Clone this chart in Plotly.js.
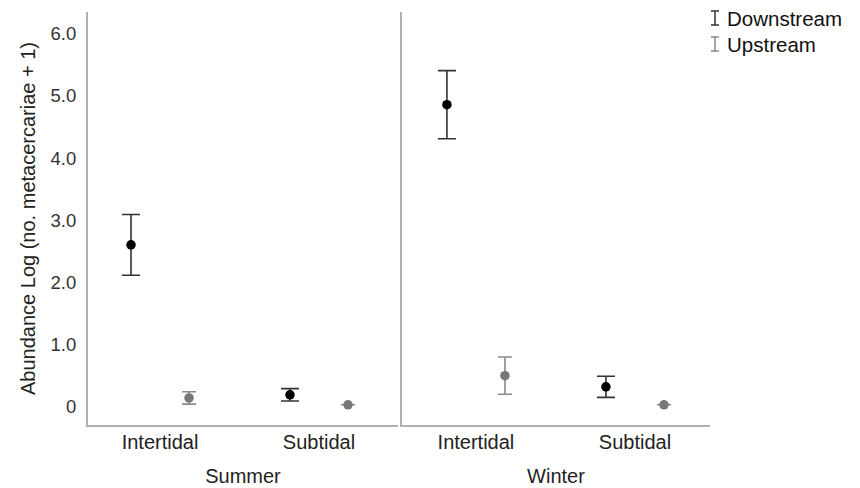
<!DOCTYPE html>
<html>
<head>
<meta charset="utf-8">
<script src="https://cdn.plot.ly/plotly-3.0.1.min.js"></script>
<style>html,body{margin:0;padding:0;background:#fff;}#chart{width:860px;height:488px;}</style>
</head>
<body>
<div id="chart"></div>
<script>
// ---- data ----
const categories = ['Intertidal', 'Subtidal'];
const seasons = ['Summer', 'Winter'];
const summerDownMean = [2.60, 0.18];
const summerDownErr  = [0.49, 0.10];
const summerUpMean   = [0.13, 0.02];
const summerUpErr    = [0.10, 0.00];
const winterDownMean = [4.86, 0.31];
const winterDownErr  = [0.55, 0.17];
const winterUpMean   = [0.49, 0.02];
const winterUpErr    = [0.30, 0.00];
const yTickVals = [0, 1, 2, 3, 4, 5, 6];
const yTickText = ['0', '1.0', '2.0', '3.0', '4.0', '5.0', '6.0'];
const seriesNames = ['Downstream', 'Upstream'];

const downColor = '#000000', downErrColor = '#333333';
const upColor = '#777777', upErrColor = '#8a8a8a';
const FONT = 'Liberation Sans, Arial, sans-serif';

function tr(mean, err, xa, ya, color, ecolor, w, name) {
  return {
    type: 'scatter', mode: 'markers', name: name, showlegend: false,
    x: categories, y: mean, xaxis: xa, yaxis: ya,
    marker: {color: color, size: 9.5},
    error_y: {type: 'data', array: err, visible: true, color: ecolor, thickness: 1.6, width: w},
    hoverinfo: 'x+y'
  };
}

const data = [
  tr(summerDownMean, summerDownErr, 'x', 'y', downColor, downErrColor, 9, seriesNames[0]),
  tr(summerUpMean, summerUpErr, 'x', 'y', upColor, upErrColor, 7, seriesNames[1]),
  tr(winterDownMean, winterDownErr, 'x2', 'y2', downColor, downErrColor, 9, seriesNames[0]),
  tr(winterUpMean, winterUpErr, 'x2', 'y2', upColor, upErrColor, 7, seriesNames[1])
];

const L = 88, R = 710, T = 12, B = 425;
const W = R - L, H = B - T;
const px = v => (v - L) / W;
const py = v => (B - v) / H;

const axisLine = '#b0b0b0';
const xcommon = {
  type: 'category', showgrid: false, zeroline: false, showline: true,
  linecolor: axisLine, linewidth: 2, ticks: '',
  tickfont: {family: FONT, size: 20, color: '#222'},
  ticklabelstandoff: -2,
  title: {font: {family: FONT, size: 20, color: '#222'}, standoff: 17},
  fixedrange: true
};
const ycommon = {
  range: [-0.306, 6.355], showgrid: false, zeroline: false, showline: true,
  linecolor: axisLine, linewidth: 2, ticks: '',
  tickvals: yTickVals, ticktext: yTickText,
  ticklabelstandoff: 6,
  tickfont: {family: FONT, size: 18.5, color: '#333'}, fixedrange: true
};

function legendShapes(cy, color) {
  const x0 = px(711), x1 = px(719), xc = px(715);
  const yt = py(cy - 7), yb = py(cy + 7);
  const ln = {type: 'line', xref: 'paper', yref: 'paper', line: {color: color, width: 1.5}};
  return [
    Object.assign({}, ln, {x0: xc, x1: xc, y0: yb, y1: yt}),
    Object.assign({}, ln, {x0: x0, x1: x1, y0: yt, y1: yt}),
    Object.assign({}, ln, {x0: x0, x1: x1, y0: yb, y1: yb})
  ];
}

const layout = {
  width: 860, height: 488,
  margin: {l: L, r: 860 - R, t: T, b: 488 - B},
  paper_bgcolor: '#ffffff', plot_bgcolor: '#ffffff',
  showlegend: false,
  scattermode: 'group', scattergap: 0.27,
  font: {family: FONT, color: '#222'},
  xaxis: Object.assign({}, xcommon, {domain: [0, px(398)], anchor: 'y', range: [-0.453, 1.497],
    title: Object.assign({}, xcommon.title, {text: seasons[0]})}),
  xaxis2: Object.assign({}, xcommon, {domain: [px(402), 1], anchor: 'y2', range: [-0.465, 1.472],
    title: Object.assign({}, xcommon.title, {text: seasons[1]})}),
  yaxis: Object.assign({}, ycommon, {anchor: 'x',
    title: {text: 'Abundance Log (no. metacercariae + 1)', font: {family: FONT, size: 20, color: '#222'}, standoff: 10}}),
  yaxis2: Object.assign({}, ycommon, {anchor: 'x2', matches: 'y', showticklabels: false}),
  shapes: legendShapes(18, '#333333').concat(legendShapes(44, '#8a8a8a')),
  annotations: [
    {xref: 'paper', yref: 'paper', x: px(725), y: py(18), xanchor: 'left', yanchor: 'middle',
     text: seriesNames[0], showarrow: false, font: {family: FONT, size: 20.5, color: '#111'}},
    {xref: 'paper', yref: 'paper', x: px(725), y: py(44), xanchor: 'left', yanchor: 'middle',
     text: seriesNames[1], showarrow: false, font: {family: FONT, size: 20.5, color: '#111'}}
  ]
};

Plotly.newPlot('chart', data, layout, {displayModeBar: false, staticPlot: true});
</script>
</body>
</html>
